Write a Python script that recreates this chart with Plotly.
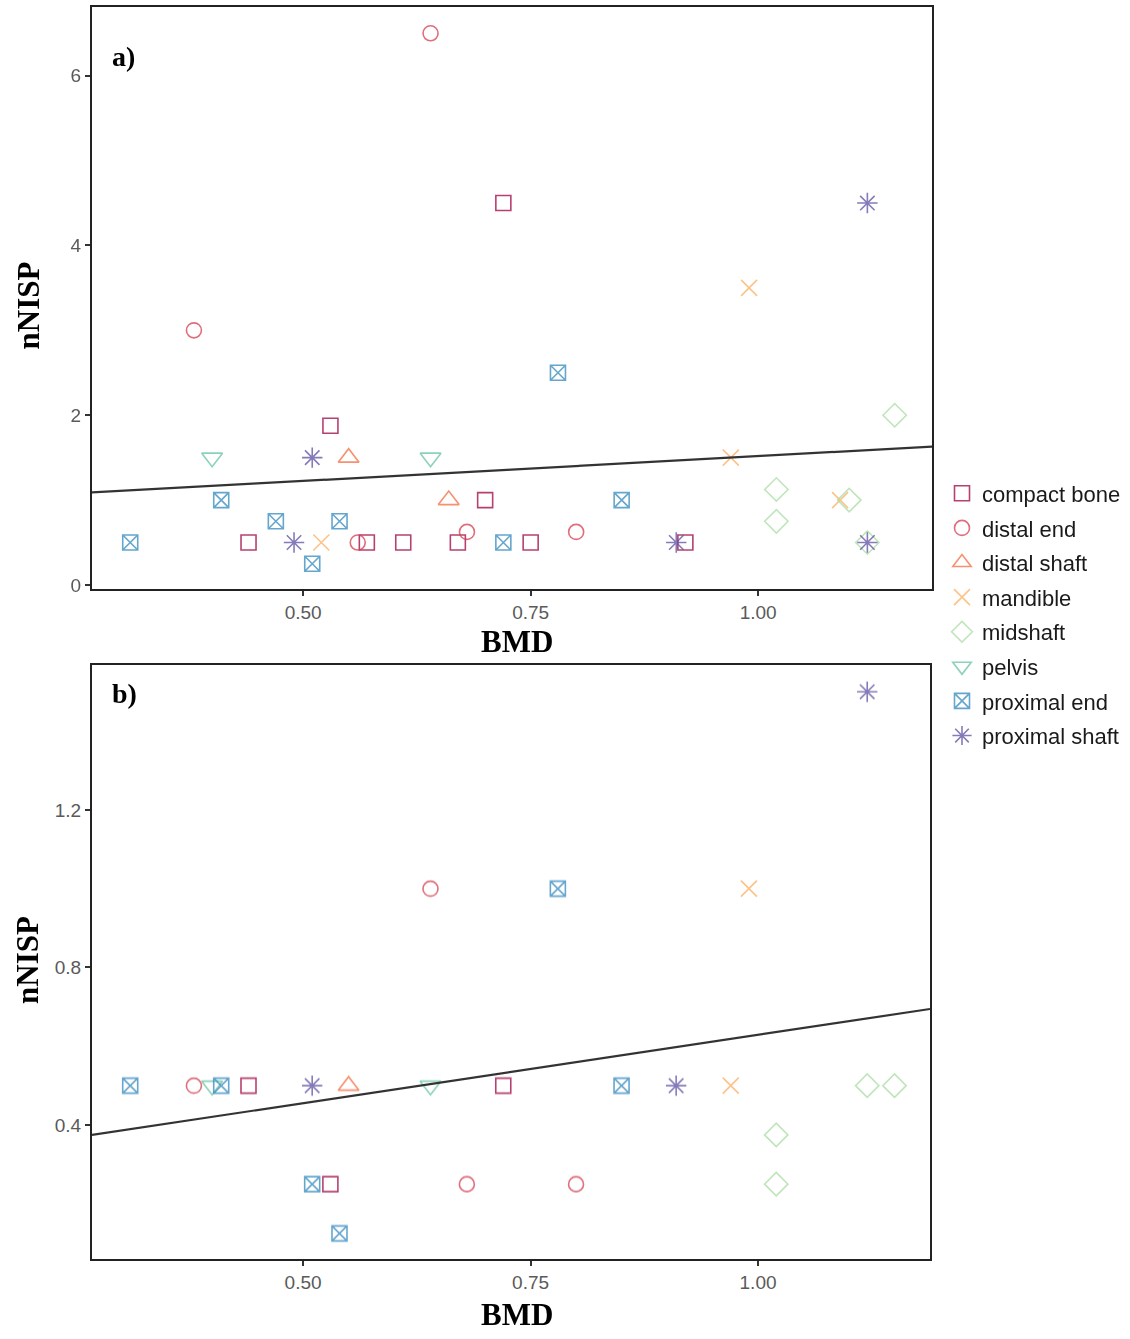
import plotly.graph_objects as go

W, H = 1130, 1339

categories = ["compact bone", "distal end", "distal shaft", "mandible",
              "midshaft", "pelvis", "proximal end", "proximal shaft"]
colors = ["#9E0142", "#D53E4F", "#F46D43", "#FDAE61",
          "#ABDDA4", "#66C2A5", "#3288BD", "#5E4FA2"]
symbols = ["square-open", "circle-open", "triangle-up-open", "x-thin-open",
           "diamond-open", "triangle-down-open", "square-x-open", "asterisk-open"]
marker_sizes = [15, 15, 18, 16, 18, 18, 15, 17]

# Panel a) BMD (x) and nNISP (y) per category
a_x = {
    "compact bone": [0.44, 0.53, 0.57, 0.61, 0.67, 0.70, 0.72, 0.75, 0.92],
    "distal end": [0.38, 0.64, 0.56, 0.68, 0.80],
    "distal shaft": [0.55, 0.66],
    "mandible": [0.52, 0.99, 0.97, 1.09],
    "midshaft": [1.15, 1.02, 1.02, 1.10, 1.12],
    "pelvis": [0.40, 0.64],
    "proximal end": [0.31, 0.41, 0.47, 0.51, 0.54, 0.72, 0.78, 0.85],
    "proximal shaft": [0.49, 0.51, 0.91, 1.12, 1.12],
}
a_y = {
    "compact bone": [0.5, 1.875, 0.5, 0.5, 0.5, 1.0, 4.5, 0.5, 0.5],
    "distal end": [3.0, 6.5, 0.5, 0.625, 0.625],
    "distal shaft": [1.5, 1.0],
    "mandible": [0.5, 3.5, 1.5, 1.0],
    "midshaft": [2.0, 1.125, 0.75, 1.0, 0.5],
    "pelvis": [1.5, 1.5],
    "proximal end": [0.5, 1.0, 0.75, 0.25, 0.75, 0.5, 2.5, 1.0],
    "proximal shaft": [0.5, 1.5, 0.5, 4.5, 0.5],
}

# Panel b)
b_x = {
    "compact bone": [0.44, 0.72, 0.53],
    "distal end": [0.38, 0.64, 0.68, 0.80],
    "distal shaft": [0.55],
    "mandible": [0.99, 0.97],
    "midshaft": [1.12, 1.15, 1.02, 1.02],
    "pelvis": [0.40, 0.64],
    "proximal end": [0.31, 0.41, 0.51, 0.54, 0.78, 0.85],
    "proximal shaft": [0.51, 0.91, 1.12],
}
b_y = {
    "compact bone": [0.5, 0.5, 0.25],
    "distal end": [0.5, 1.0, 0.25, 0.25],
    "distal shaft": [0.5],
    "mandible": [1.0, 0.5],
    "midshaft": [0.5, 0.5, 0.375, 0.25],
    "pelvis": [0.5, 0.5],
    "proximal end": [0.5, 0.5, 0.25, 0.125, 1.0, 0.5],
    "proximal shaft": [0.5, 0.5, 1.5],
}

# Fitted lines (intercept, slope)
a_fit = (0.933, 0.585)
b_fit = (0.282, 0.347)

a_xrange = [0.268, 1.191]
a_yrange = [-0.047, 6.81]
b_xrange = [0.268, 1.189]
b_yrange = [0.059, 1.569]

a_yticks = [0, 2, 4, 6]
b_yticks = [0.4, 0.8, 1.2]
xticks = [0.50, 0.75, 1.00]
xticklabels = ["0.50", "0.75", "1.00"]

fig = go.Figure()

def px2paper_y(py):
    return 1 - py / H

for i, c in enumerate(categories):
    fig.add_trace(go.Scatter(
        x=a_x[c], y=a_y[c], mode="markers", name=c,
        legendgroup=c, showlegend=True,
        marker=dict(symbol=symbols[i], size=marker_sizes[i], color=colors[i],
                    line=dict(width=1.6, color=colors[i])),
        opacity=0.75, xaxis="x", yaxis="y"))
    fig.add_trace(go.Scatter(
        x=b_x[c], y=b_y[c], mode="markers", name=c,
        legendgroup=c, showlegend=False,
        marker=dict(symbol=symbols[i], size=marker_sizes[i], color=colors[i],
                    line=dict(width=1.6, color=colors[i])),
        opacity=0.75, xaxis="x2", yaxis="y2"))

fig.add_trace(go.Scatter(
    x=a_xrange, y=[a_fit[0] + a_fit[1] * v for v in a_xrange],
    mode="lines", line=dict(color="#333333", width=2.2), showlegend=False,
    xaxis="x", yaxis="y", hoverinfo="skip"))
fig.add_trace(go.Scatter(
    x=b_xrange, y=[b_fit[0] + b_fit[1] * v for v in b_xrange],
    mode="lines", line=dict(color="#333333", width=2.2), showlegend=False,
    xaxis="x2", yaxis="y2", hoverinfo="skip"))

tickfont = dict(family="Liberation Sans, Arial", size=19, color="#5a5a5a")
common_axis = dict(showgrid=False, zeroline=False, showline=True, mirror=True,
                   linecolor="#222222", linewidth=2, ticks="outside", ticklen=5,
                   tickwidth=1.5, tickcolor="#333333", tickfont=tickfont)

fig.update_layout(
    width=W, height=H,
    margin=dict(l=0, r=0, t=0, b=0),
    paper_bgcolor="white", plot_bgcolor="white",
    xaxis=dict(domain=[92 / W, 932 / W], range=a_xrange, anchor="y",
               tickvals=xticks, ticktext=xticklabels, **common_axis),
    yaxis=dict(domain=[px2paper_y(592), px2paper_y(7)], range=a_yrange, anchor="x",
               tickvals=a_yticks, ticktext=[str(v) for v in a_yticks], **common_axis),
    xaxis2=dict(domain=[92 / W, 930 / W], range=b_xrange, anchor="y2",
                tickvals=xticks, ticktext=xticklabels, **common_axis),
    yaxis2=dict(domain=[px2paper_y(1266), px2paper_y(668)], range=b_yrange, anchor="x2",
                tickvals=b_yticks, ticktext=[str(v) for v in b_yticks], **common_axis),
    legend=dict(x=942 / W, y=px2paper_y(475), xanchor="left", yanchor="top",
                font=dict(family="Liberation Sans, Arial", size=22, color="#1a1a1a"),
                tracegroupgap=3, itemsizing="trace", itemwidth=30,
                bgcolor="rgba(0,0,0,0)"),
    showlegend=True,
)

title_font = dict(family="Liberation Serif, Times New Roman", size=31, color="black")
ann = []
ann.append(dict(text="<b>BMD</b>", x=517 / W, y=px2paper_y(645), xref="paper", yref="paper",
                showarrow=False, font=title_font, xanchor="center", yanchor="middle"))
ann.append(dict(text="<b>BMD</b>", x=517 / W, y=px2paper_y(1321), xref="paper", yref="paper",
                showarrow=False, font=title_font, xanchor="center", yanchor="middle"))
ann.append(dict(text="<b>nNISP</b>", x=28 / W, y=px2paper_y(307), xref="paper", yref="paper",
                showarrow=False, font=title_font, textangle=-90, xanchor="center", yanchor="middle"))
ann.append(dict(text="<b>nNISP</b>", x=28 / W, y=px2paper_y(965), xref="paper", yref="paper",
                showarrow=False, font=title_font, textangle=-90, xanchor="center", yanchor="middle"))
label_font = dict(family="Liberation Serif, Times New Roman", size=28, color="black")
ann.append(dict(text="<b>a)</b>", x=110 / W, y=px2paper_y(57), xref="paper", yref="paper",
                showarrow=False, font=label_font, xanchor="left", yanchor="middle"))
ann.append(dict(text="<b>b)</b>", x=110 / W, y=px2paper_y(697), xref="paper", yref="paper",
                showarrow=False, font=label_font, xanchor="left", yanchor="middle"))
fig.update_layout(annotations=ann)

fig.write_html("out.html")
